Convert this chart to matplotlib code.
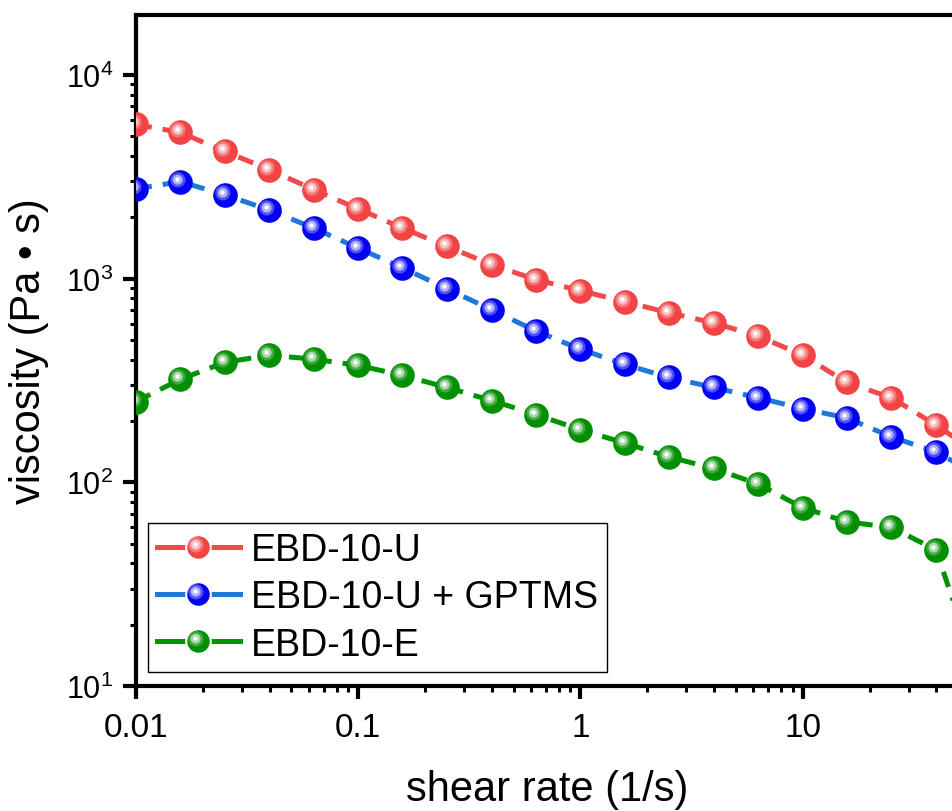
import numpy as np
import matplotlib
matplotlib.use("Agg")
import matplotlib.pyplot as plt
from matplotlib.path import Path
from matplotlib.lines import Line2D
from matplotlib.legend_handler import HandlerTuple
from matplotlib.ticker import LogLocator, FuncFormatter, NullFormatter

plt.rcParams['font.family'] = ['Liberation Sans', 'DejaVu Sans']
plt.rcParams['mathtext.fontset'] = 'custom'
plt.rcParams['mathtext.rm'] = 'Liberation Sans'
plt.rcParams['mathtext.it'] = 'Liberation Sans:italic'

# shear rate (1/s), 5 points per decade
shear_rate = [0.01, 0.0158, 0.0251, 0.0398, 0.0631, 0.1, 0.158, 0.251, 0.398, 0.631,
              1, 1.58, 2.51, 3.98, 6.31, 10, 15.8, 25.1, 39.8, 63.1]

visc_u = [5710, 5220, 4210, 3430, 2730, 2200, 1770, 1440, 1170, 988,
          873, 770, 679, 606, 522, 421, 309, 260, 191, 136]
visc_u_gptms = [2760, 2990, 2580, 2170, 1770, 1410, 1130, 891, 703, 553,
                450, 379, 327, 292, 260, 230, 207, 167, 141, 107]
visc_e = [249, 320, 388, 421, 402, 375, 335, 292, 252, 215,
          181, 156, 133, 117, 98, 75, 64, 60, 46.6, 10.5]

labels = ["EBD-10-U", "EBD-10-U + GPTMS", "EBD-10-E"]
line_colors = ["#F24A4A", "#1E78DC", "#009400"]
ball_colors = ["#F24444", "#0000F2", "#009000"]
mid_colors = ["#F47A7A", "#5050F8", "#40A840"]
glow_colors = ["#FAC0C0", "#B0B0FF", "#A8D8A8"]

DPI = 100
fig = plt.figure(figsize=(9.52, 8.12), dpi=DPI)
ax = fig.add_axes([136 / 952, 1 - 687 / 812, 822 / 952, 671 / 812])


def px2pt(v):
    return v * 72.0 / DPI


# offset circle marker; size chosen so the marker scaling keeps the pixel offset
def offset_marker(cx, cy, r):
    p = Path.circle((cx, cy), r)
    ext = np.max(np.abs(p.vertices))
    return p, px2pt(2 * ext)


BALL_R = 12.3
ball_path, ball_ms = offset_marker(0, 0, BALL_R)
mid_path, mid_ms = offset_marker(-2.6, 2.6, 7.6)
glow_path, glow_ms = offset_marker(-2.8, 2.8, 5.0)
dot_path, dot_ms = offset_marker(-3.0, 3.0, 2.2)

handles = []
for y, lab, lc, bc, mc, gc in zip([visc_u, visc_u_gptms, visc_e], labels,
                                  line_colors, ball_colors, mid_colors, glow_colors):
    ax.plot(shear_rate, y, color=lc, lw=3.6, dashes=(3.2, 2.2), zorder=2)
    ax.plot(shear_rate, y, ls='None', marker=ball_path, ms=ball_ms,
            mfc=bc, mec='none', zorder=3)
    ax.plot(shear_rate, y, ls='None', marker=mid_path, ms=mid_ms,
            mfc=mc, mec='none', zorder=4)
    ax.plot(shear_rate, y, ls='None', marker=glow_path, ms=glow_ms,
            mfc=gc, mec='none', zorder=5)
    ax.plot(shear_rate, y, ls='None', marker=dot_path, ms=dot_ms,
            mfc='white', mec='none', zorder=6)

    h_line = Line2D([], [], color=lc, lw=3.6)
    h_ball = Line2D([], [], ls='None', marker=ball_path, ms=ball_ms, mfc=bc, mec='white', mew=1.5)
    h_mid = Line2D([], [], ls='None', marker=mid_path, ms=mid_ms, mfc=mc, mec='none')
    h_glow = Line2D([], [], ls='None', marker=glow_path, ms=glow_ms, mfc=gc, mec='none')
    h_dot = Line2D([], [], ls='None', marker=dot_path, ms=dot_ms, mfc='white', mec='none')
    handles.append((h_line, h_ball, h_mid, h_glow, h_dot))

ax.set_xscale('log')
ax.set_yscale('log')
ax.set_xlim(0.01, 50)
ax.set_ylim(10, 10 ** 4.294)

ax.xaxis.set_major_locator(LogLocator(base=10, numticks=10))
ax.xaxis.set_minor_locator(LogLocator(base=10, subs=np.arange(2, 10), numticks=20))
ax.xaxis.set_major_formatter(FuncFormatter(lambda v, p: "%g" % v))
ax.xaxis.set_minor_formatter(NullFormatter())
ax.yaxis.set_minor_locator(LogLocator(base=10, subs=np.arange(2, 10), numticks=20))
ax.yaxis.set_minor_formatter(NullFormatter())

for s in ['left', 'bottom', 'top', 'right']:
    ax.spines[s].set_linewidth(3.0)
ax.tick_params(which='major', direction='out', length=9.5, width=3.0, pad=9,
               top=False, right=False)
ax.tick_params(which='minor', direction='out', length=4.5, width=2.2,
               top=False, right=False)
ax.tick_params(axis='x', labelsize=24)
ax.tick_params(axis='y', labelsize=22, pad=7)

ax.set_xlabel("shear rate (1/s)", fontsize=30, labelpad=19)
ax.set_ylabel("viscosity (Pa \u2022 s)", fontsize=30, labelpad=12)

leg = ax.legend(handles, labels, handler_map={tuple: HandlerTuple(ndivide=1)},
                loc='upper left', bbox_to_anchor=(148 / 952, 1 - 524 / 812),
                bbox_transform=fig.transFigure, fontsize=27, frameon=True,
                fancybox=False, framealpha=1, edgecolor='black',
                handlelength=2.2, handletextpad=0.3, labelspacing=0.3,
                borderpad=0.24, borderaxespad=0, handleheight=0.7)
leg.get_frame().set_linewidth(1.0)

fig.savefig("out.png", dpi=DPI)
